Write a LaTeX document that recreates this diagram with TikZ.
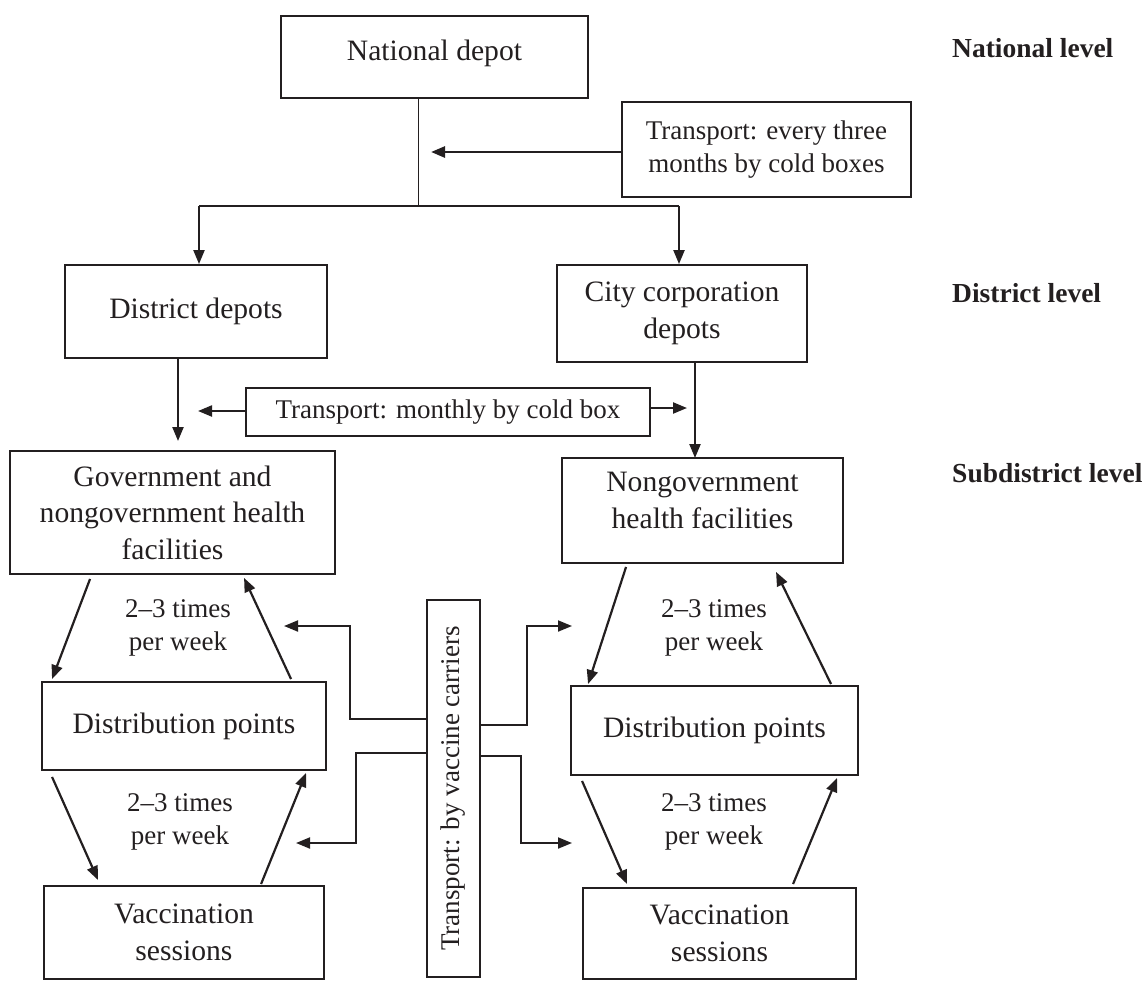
\documentclass[tikz,border=0pt]{standalone}
\usepackage{fontspec}
\setmainfont{Liberation Serif}
\usetikzlibrary{arrows.meta,calc}
\definecolor{ink}{RGB}{35,31,32}
\newcommand\bxfont{\fontsize{29.6}{36.5}\selectfont}
\newcommand\trfont{\fontsize{27}{33}\selectfont}
\newcommand\lvfont{\fontsize{27.5}{33}\selectfont\bfseries}
\newcommand\lowstrut[1]{\rule[-#1]{0pt}{#1}}
\begin{document}
\begin{tikzpicture}[x=1pt,y=-1pt,
  box/.style={draw=ink,line width=1.9pt,inner sep=0pt,align=center,text=ink,font=\bxfont},
  tbox/.style={box,font=\trfont},
  freq/.style={inner sep=0pt,align=center,text=ink,font=\trfont},
  lvl/.style={inner sep=0pt,anchor=west,text=ink,font=\lvfont},
  arr/.style={draw=ink,line width=2.2pt,-{Triangle[length=14pt,width=11pt]}},
  carr/.style={arr,line width=1.9pt}]
\useasboundingbox (0,0) rectangle (1145,980);
% boxes
\node[box,minimum width=307,minimum height=82] (nat) at (434.5,57) {National depot\lowstrut{13pt}};
\node[tbox,minimum width=289,minimum height=95] (t3) at (766.5,149.5) {Transport: every three\\months by cold boxes};
\node[box,minimum width=262,minimum height=93] (dist) at (196,311.5) {District depots};
\node[box,minimum width=250,minimum height=97] (city) at (682,313.5) {City corporation\\depots};
\node[tbox,minimum width=404,minimum height=48] (tm) at (448,412) {Transport: monthly by cold box};
\node[box,minimum width=325,minimum height=123] (gov) at (172.5,512.5) {Government and\\nongovernment health\\facilities};
\node[box,minimum width=281,minimum height=105] (ngo) at (702.5,510.5) {Nongovernment\\health facilities\lowstrut{20pt}};
\node[box,minimum width=284,minimum height=88] (dpL) at (184,726) {Distribution points};
\node[box,minimum width=287,minimum height=89] (dpR) at (714.5,730.5) {Distribution points};
\node[box,minimum width=280,minimum height=93] (vsL) at (184,932.5) {Vaccination\\sessions};
\node[box,minimum width=273,minimum height=91] (vsR) at (719.5,933.5) {Vaccination\\sessions};
\node[draw=ink,line width=1.9pt,minimum width=53,minimum height=377,inner sep=0pt] (vc) at (453.5,788.5) {};
\node[rotate=90,inner sep=0pt,text=ink,font=\trfont] (vct) at (vc.center) {Transport: by vaccine carriers};
% level labels
\node[lvl] (l1) at (952,48) {National level};
\node[lvl] (l2) at (952,293) {District level};
\node[lvl] (l3) at (952,473) {Subdistrict level};
% frequency labels
\node[freq] (f1) at (178,627.5) {2--3 times\\per week};
\node[freq] (f2) at (180,822) {2--3 times\\per week};
\node[freq] (f3) at (714,628) {2--3 times\\per week};
\node[freq] (f4) at (714,821.5) {2--3 times\\per week};
% top connectors
\coordinate (J) at (418,206);
\coordinate (JL) at (199,206);
\coordinate (JR) at (679,206);
\draw[draw=ink,line width=1pt] (J |- nat.south) -- (J);
\draw[draw=ink,line width=2.6pt] (JL) -- (JR);
\draw[arr] (JL) -- (JL |- dist.north);
\draw[arr] (JR) -- (JR |- city.north);
\coordinate (t3tip) at (431,152);
\draw[arr,line width=2.6pt] (t3.west |- t3tip) -- (t3tip);
% district to subdistrict
\coordinate (dg) at (178,441);
\draw[arr] (dist.south -| dg) -- (dg);
\coordinate (cn) at (695,458);
\draw[arr] (city.south -| cn) -- (cn);
\coordinate (tmL) at (198,411);
\coordinate (tmR) at (687,408);
\draw[arr] (tm.west |- tmL) -- (tmL);
\draw[arr] (tm.east |- tmR) -- (tmR);
% left column
\draw[arr] ($(gov.south west)+(81,4)$) -- ($(dpL.north west)+(11,-2)$);
\draw[arr] ($(dpL.north west)+(250,-2)$) -- ($(gov.south west)+(235,3)$);
\draw[arr] ($(dpL.south west)+(11,6)$) -- ($(vsL.north west)+(55,-5)$);
\draw[arr] ($(vsL.north west)+(218,-1)$) -- ($(dpL.south west)+(265,2)$);
% right column
\draw[arr] ($(ngo.south west)+(65,3)$) -- ($(dpR.north west)+(18,-1)$);
\draw[arr] ($(dpR.north west)+(261,-1)$) -- ($(ngo.south west)+(215,8)$);
\draw[arr] ($(dpR.south west)+(12,5)$) -- ($(vsR.north west)+(45,-3)$);
\draw[arr] ($(vsR.north west)+(211,-3)$) -- ($(dpR.south west)+(267,2)$);
% vaccine carrier connectors
\coordinate (a1) at (284,626);
\coordinate (a2) at (296,843);
\coordinate (a3) at (572,626);
\coordinate (a4) at (572,843);
\draw[carr] ($(vc.north west)+(0,120)$) -| ($(a1)+(66,0)$) -- (a1);
\draw[carr] ($(vc.north west)+(0,154)$) -| ($(a2)+(60,0)$) -- (a2);
\draw[carr] ($(vc.north east)+(0,126)$) -| ($(a3)+(-45,0)$) -- (a3);
\draw[carr] ($(vc.north east)+(0,157)$) -| ($(a4)+(-51,0)$) -- (a4);
\end{tikzpicture}
\end{document}
